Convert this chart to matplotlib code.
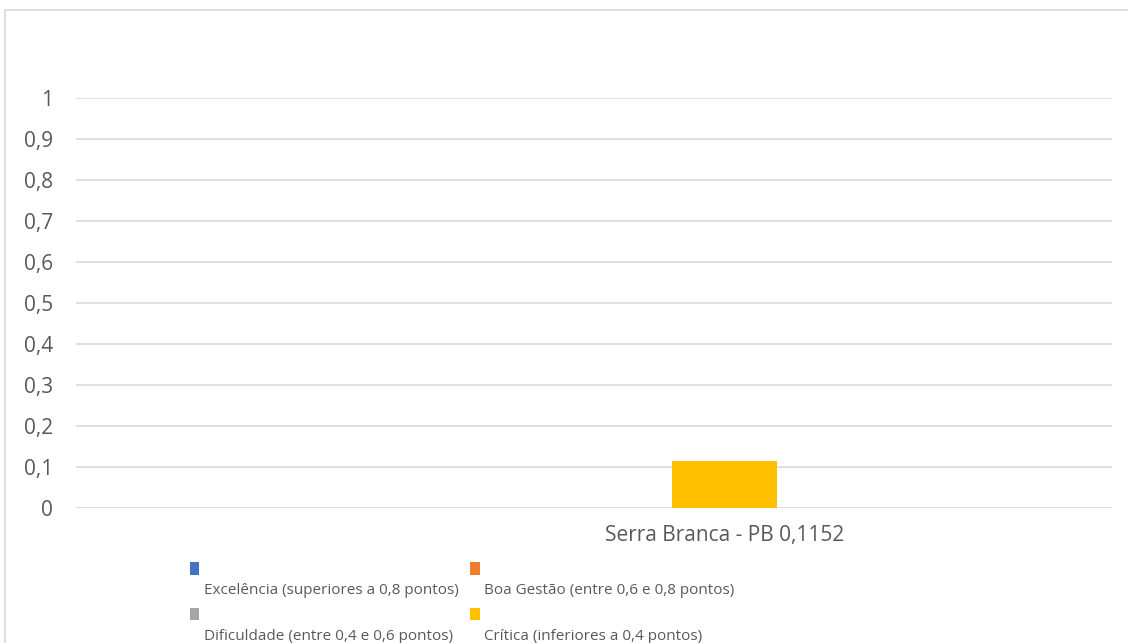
import matplotlib
matplotlib.use("Agg")
import matplotlib.pyplot as plt
from matplotlib.patches import Rectangle, Patch
from matplotlib.legend_handler import HandlerPatch

categories = ["Serra Branca - PB 0,1152"]
series_names = [
    "Excelência (superiores a 0,8 pontos)",
    "Boa Gestão (entre 0,6 e 0,8 pontos)",
    "Dificuldade (entre 0,4 e 0,6 pontos)",
    "Crítica (inferiores a 0,4 pontos)",
]
series_values = [
    [0.0],
    [0.0],
    [0.0],
    [0.1152],
]
colors = ["#4472C4", "#ED7D31", "#A5A5A5", "#FFC000"]
yticks = [0, 0.1, 0.2, 0.3, 0.4, 0.5, 0.6, 0.7, 0.8, 0.9, 1]
ytick_labels = ["0", "0,1", "0,2", "0,3", "0,4", "0,5", "0,6", "0,7", "0,8", "0,9", "1"]

TEXT = "#595959"
GRID = "#D9D9D9"
plt.rcParams["font.family"] = ["Open Sans", "DejaVu Sans"]

W, H = 1128, 643
fig = plt.figure(figsize=(W / 100, H / 100), dpi=100)

# outer chart border
fig.patches.append(Rectangle((5 / W, -0.2), 1.2, 1.2 - 10 / H,
                             transform=fig.transFigure, fill=False,
                             edgecolor=GRID, linewidth=1.2))

ax = fig.add_axes([76 / W, (H - 508) / H, (1112 - 76) / W, (508 - 98) / H])
bar_w = 105 / 1036
for name, vals, c in zip(series_names, series_values, colors):
    ax.bar(range(len(categories)), vals, width=bar_w, color=c, label=name, zorder=3)

ax.set_xlim(-0.626, 0.374)
ax.set_ylim(0, 1)
ax.set_yticks(yticks)
ax.set_yticklabels(ytick_labels)
ax.set_xticks(range(len(categories)))
ax.set_xticklabels(categories)
for s in ax.spines.values():
    s.set_visible(False)
ax.yaxis.grid(True, color=GRID, linewidth=1.2, zorder=0)
ax.tick_params(axis="y", length=0, pad=16.5, labelsize=15, labelcolor=TEXT)
ax.tick_params(axis="x", length=0, pad=12, labelsize=15, labelcolor=TEXT)


class UpPatch(HandlerPatch):
    def __init__(self, shift, **kw):
        super().__init__(**kw)
        self.shift = shift

    def create_artists(self, legend, orig_handle, xdescent, ydescent, width,
                       height, fontsize, trans):
        p = Rectangle((-xdescent, -ydescent + self.shift * fontsize), width, height,
                      facecolor=orig_handle.get_facecolor(), edgecolor="none",
                      transform=trans)
        return [p]


handles = [Patch(facecolor=c, edgecolor="none") for c in colors]
labels = ["\n" + n for n in series_names]
order = [0, 2, 1, 3]  # row-major display with 2 columns
leg = fig.legend([handles[i] for i in order], [labels[i] for i in order], ncol=2,
                 loc="upper left", bbox_to_anchor=(190 / W, 1 - 566 / H),
                 frameon=False, labelcolor=TEXT, borderpad=0, borderaxespad=0,
                 handlelength=0.62, handleheight=0.85, handletextpad=0.3,
                 columnspacing=0.75, labelspacing=0.88,
                 handler_map={Patch: UpPatch(0.9)},
                 prop={"family": ["Open Sans", "DejaVu Sans"], "size": 11})

fig.savefig("out.png", dpi=100)
